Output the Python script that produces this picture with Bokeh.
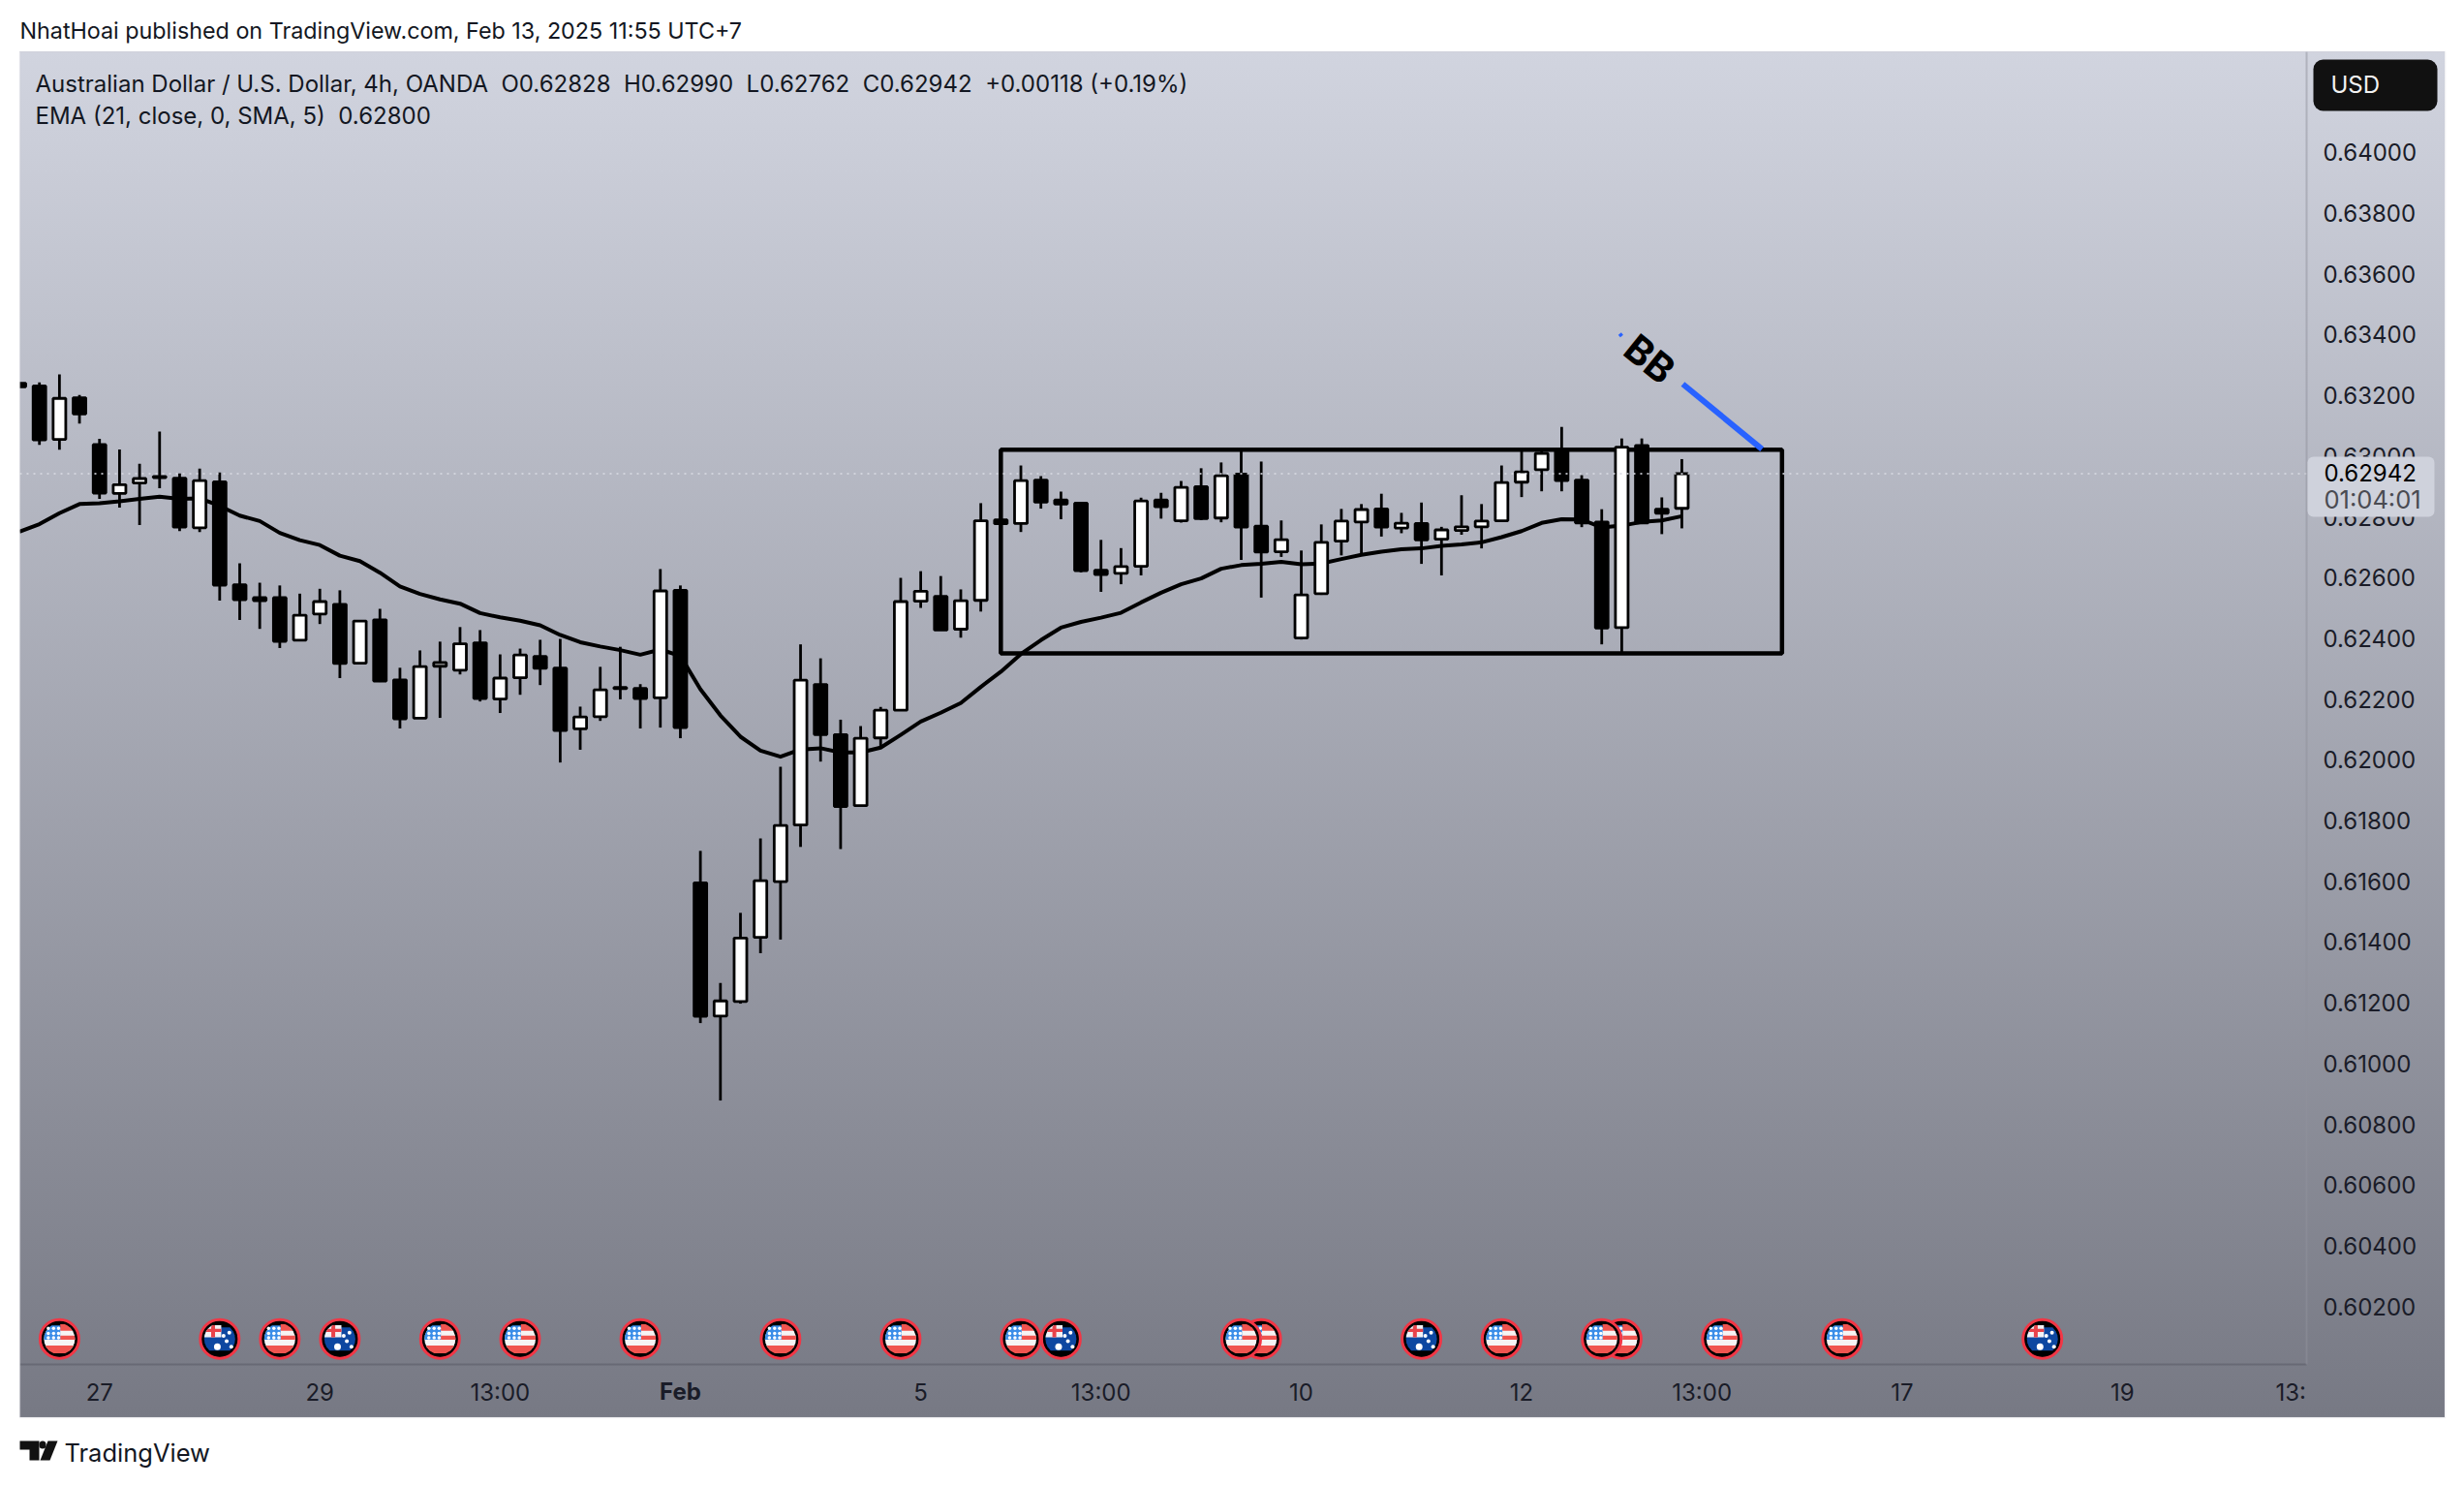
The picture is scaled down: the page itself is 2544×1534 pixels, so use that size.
import math

from bokeh.embed import file_html
from bokeh.models import BoxAnnotation, FixedTicker, Label, NumeralTickFormatter, PolyAnnotation
from bokeh.plotting import figure
from bokeh.resources import INLINE

# one 4h bar per index, -1 is the bar cut off by the left edge
bars = list(range(-1, 83))
opens = [0.63240, 0.63231, 0.63055, 0.63192, 0.63038, 0.62877, 0.62911, 0.62933, 0.62927, 0.62764,
         0.62915, 0.62576, 0.62534, 0.62534, 0.62394, 0.62480, 0.62512, 0.62318, 0.62461, 0.62263,
         0.62137, 0.62308, 0.62295, 0.62385, 0.62200, 0.62270, 0.62340, 0.62302, 0.62102, 0.62142,
         0.62238, 0.62235, 0.62204, 0.62558, 0.61595, 0.61156, 0.61204, 0.61415, 0.61599, 0.61785,
         0.62248, 0.62083, 0.61849, 0.62072, 0.62163, 0.62522, 0.62538, 0.62430, 0.62525, 0.62790,
         0.62778, 0.62921, 0.62855, 0.62845, 0.62624, 0.62614, 0.62637, 0.62855, 0.62787, 0.62899,
         0.62796, 0.62941, 0.62769, 0.62685, 0.62401, 0.62547, 0.62720, 0.62783, 0.62826, 0.62763,
         0.62778, 0.62726, 0.62755, 0.62767, 0.62787, 0.62914, 0.62955, 0.63022, 0.62921, 0.62783,
         0.62435, 0.63035, 0.62825, 0.62828]
closes = [0.63228, 0.63053, 0.63190, 0.63139, 0.62878, 0.62906, 0.62926, 0.62929, 0.62766, 0.62919,
          0.62575, 0.62527, 0.62524, 0.62390, 0.62476, 0.62521, 0.62317, 0.62457, 0.62259, 0.62135,
          0.62307, 0.62320, 0.62382, 0.62202, 0.62269, 0.62345, 0.62301, 0.62096, 0.62141, 0.62230,
          0.62234, 0.62202, 0.62556, 0.62106, 0.61155, 0.61206, 0.61413, 0.61602, 0.61784, 0.62262,
          0.62083, 0.61846, 0.62071, 0.62163, 0.62521, 0.62555, 0.62427, 0.62524, 0.62787, 0.62777,
          0.62919, 0.62848, 0.62842, 0.62623, 0.62610, 0.62636, 0.62852, 0.62833, 0.62897, 0.62794,
          0.62935, 0.62766, 0.62684, 0.62725, 0.62543, 0.62716, 0.62786, 0.62824, 0.62766, 0.62779,
          0.62724, 0.62757, 0.62767, 0.62786, 0.62913, 0.62948, 0.63009, 0.62919, 0.62780, 0.62434,
          0.63029, 0.62780, 0.62812, 0.62942]
highs = [0.63240, 0.63243, 0.63269, 0.63201, 0.63057, 0.63022, 0.62975, 0.63081, 0.62943, 0.62959,
         0.62946, 0.62647, 0.62583, 0.62574, 0.62547, 0.62563, 0.62558, 0.62457, 0.62497, 0.62303,
         0.62360, 0.62389, 0.62437, 0.62427, 0.62347, 0.62366, 0.62395, 0.62398, 0.62175, 0.62306,
         0.62372, 0.62249, 0.62628, 0.62574, 0.61700, 0.61265, 0.61496, 0.61741, 0.61977, 0.62380,
         0.62334, 0.62132, 0.62111, 0.62174, 0.62599, 0.62621, 0.62605, 0.62561, 0.62845, 0.62790,
         0.62969, 0.62934, 0.62883, 0.62845, 0.62724, 0.62697, 0.62863, 0.62879, 0.62918, 0.62960,
         0.62979, 0.63023, 0.62982, 0.62788, 0.62689, 0.62775, 0.62826, 0.62842, 0.62876, 0.62813,
         0.62847, 0.62767, 0.62871, 0.62842, 0.62969, 0.63017, 0.63017, 0.63096, 0.62937, 0.62825,
         0.63058, 0.63058, 0.62864, 0.62990]
lows = [0.63228, 0.63037, 0.63021, 0.63107, 0.62859, 0.62830, 0.62773, 0.62894, 0.62753, 0.62750,
        0.62524, 0.62460, 0.62431, 0.62368, 0.62394, 0.62447, 0.62269, 0.62314, 0.62256, 0.62103,
        0.62137, 0.62138, 0.62281, 0.62192, 0.62154, 0.62214, 0.62246, 0.61991, 0.62033, 0.62128,
        0.62199, 0.62103, 0.62106, 0.62071, 0.61133, 0.60878, 0.61197, 0.61363, 0.61408, 0.61713,
        0.61994, 0.61706, 0.61849, 0.62040, 0.62163, 0.62500, 0.62427, 0.62402, 0.62488, 0.62777,
        0.62750, 0.62827, 0.62792, 0.62617, 0.62553, 0.62578, 0.62607, 0.62794, 0.62781, 0.62789,
        0.62782, 0.62658, 0.62534, 0.62668, 0.62396, 0.62543, 0.62673, 0.62680, 0.62735, 0.62746,
        0.62645, 0.62607, 0.62741, 0.62696, 0.62787, 0.62865, 0.62884, 0.62884, 0.62766, 0.62380,
        0.62354, 0.62776, 0.62743, 0.62762]
ema = [0.62751, 0.62776, 0.62812, 0.62842, 0.62845, 0.62851, 0.62859, 0.62866, 0.62859, 0.62861,
       0.62836, 0.62804, 0.62786, 0.62747, 0.62723, 0.62707, 0.62672, 0.62654, 0.62616, 0.62571,
       0.62546, 0.62528, 0.62514, 0.62483, 0.62469, 0.62458, 0.62443, 0.62411, 0.62387, 0.62373,
       0.62361, 0.62346, 0.62363, 0.62342, 0.62232, 0.62146, 0.62076, 0.62030, 0.62010, 0.62034,
       0.62038, 0.62024, 0.62024, 0.62040, 0.62082, 0.62126, 0.62155, 0.62187, 0.62240, 0.62290,
       0.62348, 0.62394, 0.62435, 0.62454, 0.62468, 0.62484, 0.62518, 0.62550, 0.62578, 0.62597,
       0.62629, 0.62641, 0.62645, 0.62652, 0.62644, 0.62646, 0.62661, 0.62675, 0.62685, 0.62693,
       0.62696, 0.62704, 0.62709, 0.62716, 0.62733, 0.62753, 0.62780, 0.62792, 0.62791, 0.62765,
       0.62771, 0.62783, 0.62788, 0.62802]

price_ticks = [0.602, 0.604, 0.606, 0.608, 0.610, 0.612, 0.614, 0.616, 0.618, 0.620,
               0.622, 0.624, 0.626, 0.628, 0.630, 0.632, 0.634, 0.636, 0.638, 0.640]
time_ticks = [3, 14, 23, 32, 44, 53, 63, 74, 83, 93, 104, 112.4]
time_labels = ["27", "29", "13:00", "", "5", "13:00", "10", "12", "13:00", "17", "19", "13:"]
feb_tick = 32

# where the price pane ends, axes are pinned there
pane_right = 113.19
pane_left = -0.977
pane_bottom = 0.600089

range_box = dict(left=48, right=87, top=0.63021, bottom=0.62350)
trend_x = [78.9, 86.0]
trend_y = [0.63403, 0.63023]
trend_gap = [79.0, 82.05]
trend_gap_y = [0.63395, 0.63237]
bb_at = (80.4, 0.63320)
last_price = 0.62942
event_row = 0.60093
us_events = [1, 12, 20, 24, 30, 37, 43, 49, 60, 61, 73, 78, 79, 84, 90]
au_events = [9, 15, 51, 69, 100]


def canvas_label(p, text, x, y, size, color, style="normal", font="Inter", align="left"):
    p.add_layout(Label(x=x, y=y, x_units="canvas", y_units="canvas", text=text, level="overlay",
                       text_font=font, text_font_size=f"{size}px", text_color=color,
                       text_font_style=style, text_align=align, text_baseline="middle"))


def canvas_box(p, left, right, top, bottom, color, radius=0):
    p.add_layout(BoxAnnotation(left=left, right=right, top=top, bottom=bottom, level="overlay",
                               left_units="canvas", right_units="canvas", top_units="canvas", bottom_units="canvas",
                               fill_color=color, fill_alpha=1, line_color=None, border_radius=radius))


def disc_part(cx, cy, rx, ry, x0, x1, y0, y1, n=9):
    # slice of a flag disc, unit box clipped to the unit circle
    left, right, ups = [], [], []
    for k in range(n):
        v = y0 + (y1 - y0) * k / (n - 1)
        h = math.sqrt(max(0, 1 - v * v))
        a, b = max(x0, -h), min(x1, h)
        if a < b:
            left.append(a)
            right.append(b)
            ups.append(v)
    xs = left + right[::-1]
    ys = ups + ups[::-1]
    return [cx + rx * u for u in xs], [cy + ry * u for u in ys]


def draw_flag(p, idx, kind):
    rx, ry = 16 / 20.68, 16 / 31350
    p.scatter([idx], [event_row], marker="circle", size=39.5, fill_color="#000000",
              line_color="#f23645", line_width=3.5)
    p.scatter([idx], [event_row], marker="circle", size=34.5, fill_color=None,
              line_color="#000000", line_width=2.5)
    if kind == "us":
        parts = [(-1, 1, -1, 1, "#f6f4f4"), (0.05, 1, 0.52, 1, "#f0544f"), (0.05, 1, -0.05, 0.22, "#f0544f"),
                 (-1, 1, -1, -0.42, "#f0544f"), (-1, 0.05, -0.05, 1, "#3a8de8")]
    else:
        parts = [(-1, 1, -1, 1, "#0d47a1"), (-1, 0.1, 0.1, 1, "#f2f2f6"), (-0.55, -0.3, 0.1, 1, "#e8434a"),
                 (-1, 0.1, 0.45, 0.65, "#e8434a")]
    for x0, x1, y0, y1, color in parts:
        xs, ys = disc_part(idx, event_row, rx, ry, x0, x1, y0, y1)
        p.patch(xs, ys, fill_color=color, line_color=None)
    if kind == "us":
        sx = [idx + rx * u for u in (-0.72, -0.38, -0.06, -0.72, -0.38, -0.06, -0.72, -0.38, -0.06)]
        sy = [event_row + ry * u for u in (0.68, 0.68, 0.68, 0.36, 0.36, 0.36, 0.08, 0.08, 0.08)]
        p.scatter(sx, sy, marker="circle", size=3.5, fill_color="#ffffff", line_color=None)
    else:
        sx = [idx + rx * u for u in (0.25, 0.62, 0.45, 0.75)]
        sy = [event_row + ry * u for u in (0.2, 0.4, -0.15, -0.5)]
        p.scatter(sx, sy, marker="circle", size=4, fill_color="#ffffff", line_color=None)
        p.scatter([idx - rx * 0.15], [event_row - ry * 0.5], marker="circle", size=7,
                  fill_color="#ffffff", line_color=None)


# the frame fills the whole figure: in svg anything painted outside it gets lost
p = figure(
    width=2528, height=1518,
    x_range=(-1.9439, 120.30), y_range=(0.596581, 0.645002),
    y_axis_location="right",
    toolbar_location=None,
    output_backend="svg",
    min_border=0,
)
p.background_fill_color = None
p.border_fill_color = None
p.outline_line_color = None
p.grid.grid_line_color = None
p.styles = {
    "background": "linear-gradient(#ffffff,#ffffff) left top/20px 100% no-repeat,"
                  "linear-gradient(#ffffff,#ffffff) right top/4px 100% no-repeat,"
                  "linear-gradient(to bottom,#ffffff 53px,#d1d4df 53px,#777984 1463px,#ffffff 1463px)",
}

p.yaxis.fixed_location = pane_right
p.yaxis.bounds = (pane_bottom, 0.643311)
p.yaxis.ticker = FixedTicker(ticks=price_ticks)
p.yaxis.formatter = NumeralTickFormatter(format="0.00000")
p.yaxis.major_label_text_font = "Inter"
p.yaxis.major_label_text_font_size = "24px"
p.yaxis.major_label_text_color = "#1a1c28"
p.yaxis.major_label_standoff = 11
p.yaxis.major_tick_line_color = None
p.yaxis.minor_tick_line_color = None
p.yaxis.axis_line_color = "#8f919c"
p.yaxis.axis_line_alpha = 0.5
p.yaxis.axis_line_width = 2

p.xaxis.fixed_location = pane_bottom
p.xaxis.bounds = (pane_left, pane_right)
p.xaxis.ticker = FixedTicker(ticks=time_ticks)
p.xaxis.major_label_overrides = dict(zip(time_ticks, time_labels))
p.xaxis.major_label_text_font = "Inter"
p.xaxis.major_label_text_font_size = "24px"
p.xaxis.major_label_text_color = "#1a1c28"
p.xaxis.major_label_standoff = 8
p.xaxis.major_tick_line_color = None
p.xaxis.minor_tick_line_color = None
p.xaxis.axis_line_color = "#5c5e69"
p.xaxis.axis_line_alpha = 0.6
p.xaxis.axis_line_width = 2

# drawings sit under the candles, the last price line on top
p.quad(left=[range_box["left"]], right=[range_box["right"]], top=[range_box["top"]], bottom=[range_box["bottom"]],
       fill_color=None, line_color="#000000", line_width=4.5)
p.line(bars, ema, line_color="#000000", line_width=4, line_join="round")

for i, bar in enumerate(bars):
    p.segment([bar], [highs[i]], [bar], [lows[i]], line_color="#000000", line_width=2.8)

up = [c >= o for o, c in zip(opens, closes)]
x_up = [b for b, u in zip(bars, up) if u]
x_dn = [b for b, u in zip(bars, up) if not u]
p.vbar(x=x_up, width=0.63,
       top=[c for c, u in zip(closes, up) if u], bottom=[o for o, u in zip(opens, up) if u],
       fill_color="#ffffff", line_color="#000000", line_width=2.8)
p.vbar(x=x_dn, width=0.63,
       top=[o for o, u in zip(opens, up) if not u], bottom=[c for c, u in zip(closes, up) if not u],
       fill_color="#000000", line_color="#000000", line_width=2.8)

p.line([trend_x[0], trend_gap[0]], [trend_y[0], trend_gap_y[0]], line_color="#2962ff", line_width=4)
p.line([trend_gap[1], trend_x[1]], [trend_gap_y[1], trend_y[1]], line_color="#2962ff", line_width=6)
p.add_layout(Label(x=bb_at[0], y=bb_at[1], text="BB", angle=-39, angle_units="deg",
                   text_font="Inter", text_font_size="40px", text_font_style="bold", text_color="#000000",
                   text_align="center", text_baseline="middle"))

p.segment([pane_left], [last_price], [pane_right], [last_price], line_color="#d8dae2", line_width=2,
          line_dash="2 5", line_alpha=0.8)

flags = sorted([(b, "us") for b in us_events] + [(b, "au") for b in au_events], reverse=True)
for bar, kind in flags:
    draw_flag(p, bar, kind)

# left page margin hides the cut off bar
canvas_box(p, 0, 20, 53, 1463, "#ffffff")

# thin pale edge of the chart
p.add_layout(BoxAnnotation(left=20, right=2524, top=53, bottom=1463, level="overlay",
                           left_units="canvas", right_units="canvas", top_units="canvas", bottom_units="canvas",
                           fill_alpha=0, line_color="#cfd0d6", line_width=1.5))

p.add_layout(Label(x=feb_tick, y=1436, y_units="canvas", text="Feb", text_font="Inter", text_font_size="24px",
                   text_font_style="bold", text_color="#1a1c28", text_align="center", text_baseline="middle",
                   level="overlay"))

# price axis widgets, canvas coordinates
canvas_box(p, 2388, 2516, 61, 114, "#111111", 10)
canvas_label(p, "USD", 2406, 86.5, 24, "#f2f2f2")
canvas_box(p, 2382, 2513, 471, 533, "#cfd2dc", 6)
canvas_label(p, "0.62942", 2399, 487, 24, "#000000")
canvas_label(p, "01:04:01", 2399, 515, 25.5, "#4a4b52")

# page texts
canvas_label(p, "NhatHoai published on TradingView.com, Feb 13, 2025 11:55 UTC+7", 20, 30.5, 23.3, "#131722")
canvas_label(p, "Australian Dollar / U.S. Dollar, 4h, OANDA\u00a0\u00a0O0.62828\u00a0\u00a0H0.62990\u00a0\u00a0L0.62762\u00a0\u00a0C0.62942\u00a0\u00a0+0.00118 (+0.19%)",
             36, 85.5, 24, "#131722")
canvas_label(p, "EMA (21, close, 0, SMA, 5)\u00a0\u00a00.62800", 36, 119, 24, "#131722")
canvas_label(p, "TradingView", 66, 1498.5, 25.5, "#131722")

# logo
p.add_layout(PolyAnnotation(xs=[20, 40, 40, 30, 30, 20], ys=[1487, 1487, 1507, 1507, 1496, 1496], level="overlay",
                            xs_units="canvas", ys_units="canvas", fill_color="#111111", fill_alpha=1, line_color=None))
p.add_layout(PolyAnnotation(xs=[49, 59, 51, 41], ys=[1487, 1487, 1507, 1507], level="overlay",
                            xs_units="canvas", ys_units="canvas", fill_color="#111111", fill_alpha=1, line_color=None))
canvas_box(p, 40, 47, 1487, 1495, "#111111", 4)

open("out.html", "w").write(file_html(p, INLINE))
